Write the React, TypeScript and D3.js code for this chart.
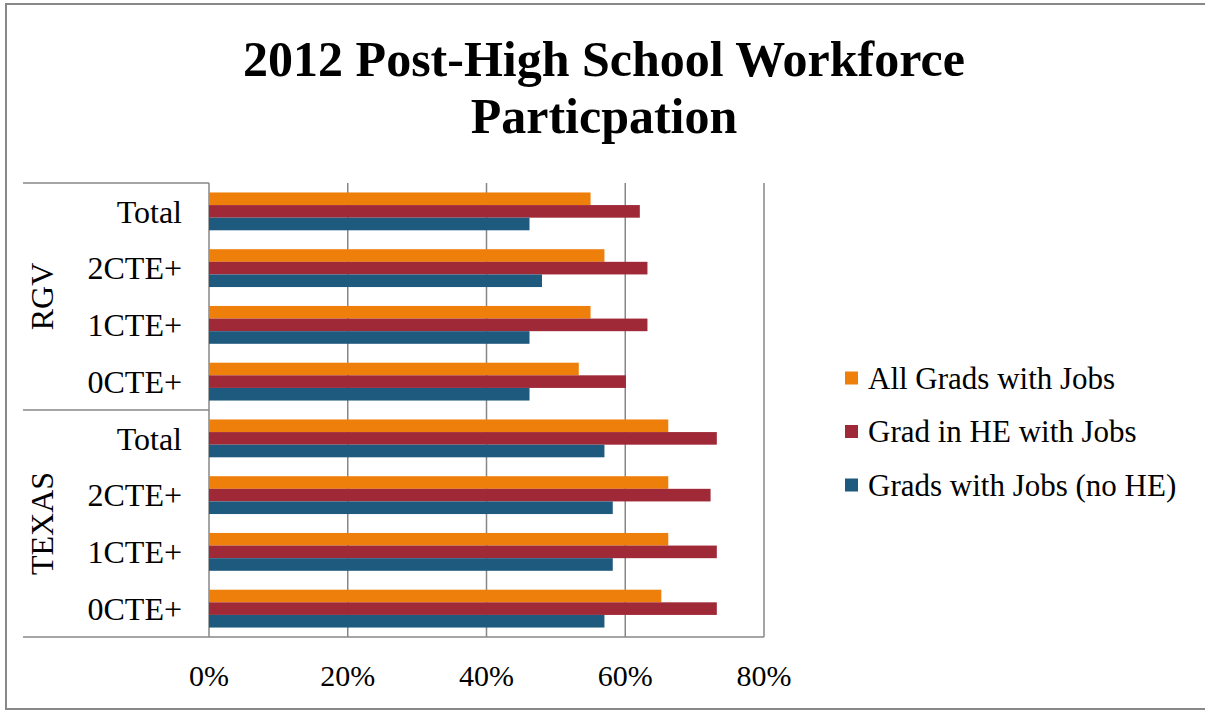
import React from "react";
import * as d3 from "d3";

const groups = ["RGV", "TEXAS"];
const categoryIds = ["RGV-Total", "RGV-2CTE+", "RGV-1CTE+", "RGV-0CTE+", "TX-Total", "TX-2CTE+", "TX-1CTE+", "TX-0CTE+"];
const categoryLabels = ["Total", "2CTE+", "1CTE+", "0CTE+", "Total", "2CTE+", "1CTE+", "0CTE+"];
const seriesNames = ["All Grads with Jobs", "Grad in HE with Jobs", "Grads with Jobs (no HE)"];
const seriesColors = ["#EE7F0B", "#A02937", "#1E5A7D"];
const allGradsJobs = [0.55, 0.57, 0.55, 0.533, 0.662, 0.662, 0.662, 0.652];
const gradHEJobs = [0.621, 0.632, 0.632, 0.601, 0.732, 0.723, 0.732, 0.732];
const gradsJobsNoHE = [0.462, 0.48, 0.462, 0.462, 0.57, 0.582, 0.582, 0.57];
const xTicks = [0, 0.2, 0.4, 0.6, 0.8];

const seriesValues = [allGradsJobs, gradHEJobs, gradsJobsNoHE];

export default function App() {
  const W = 1205, H = 711;
  const left = 209, right = 764, top = 183, bottom = 637;
  const x = d3.scaleLinear().domain([0, 0.8]).range([left, right]);
  const y = d3.scaleBand<string>().domain(categoryIds).range([top, bottom]).padding(0);
  const yInner = d3.scaleBand<string>().domain(seriesNames).range([0, y.bandwidth()]).paddingInner(0).paddingOuter(0.75);
  const font = "'Liberation Serif', 'Times New Roman', serif";
  const grid = "#878787";
  const groupMid = (i: number) => {
    const a = y(categoryIds[i * 4])!;
    const b = y(categoryIds[i * 4 + 3])! + y.bandwidth();
    return (a + b) / 2;
  };
  return (
    <svg width={W} height={H} style={{ position: "absolute", left: 0, top: 0 }} fontFamily={font}>
      <rect x={0} y={0} width={W} height={H} fill="#fff" />
      <rect x={6} y={4} width={W} height={705} fill="none" stroke="#888" strokeWidth={2} />
      <text x={604} y={76} textAnchor="middle" fontSize={50} fontWeight="bold">2012 Post-High School Workforce</text>
      <text x={604} y={133} textAnchor="middle" fontSize={50} fontWeight="bold">Particpation</text>
      {xTicks.map((t) => (
        <g key={t}>
          <line x1={x(t)} x2={x(t)} y1={top} y2={bottom} stroke={grid} strokeWidth={1.5} />
          <text x={x(t)} y={686} textAnchor="middle" fontSize={30}>{d3.format(".0%")(t)}</text>
        </g>
      ))}
      <line x1={23} x2={left} y1={top} y2={top} stroke={grid} strokeWidth={1.5} />
      <line x1={23} x2={left} y1={y(categoryIds[4])} y2={y(categoryIds[4])} stroke={grid} strokeWidth={1.5} />
      <line x1={23} x2={right} y1={bottom} y2={bottom} stroke={grid} strokeWidth={1.5} />
      {categoryIds.map((c, i) => (
        <g key={c}>
          {seriesNames.map((s, j) => (
            <rect
              key={s}
              x={x(0)}
              y={y(c)! + yInner(s)!}
              width={x(seriesValues[j][i]) - x(0)}
              height={yInner.bandwidth()}
              fill={seriesColors[j]}
            />
          ))}
          <text x={182} y={y(c)! + y.bandwidth() / 2} dy="0.35em" textAnchor="end" fontSize={32}>{categoryLabels[i]}</text>
        </g>
      ))}
      {groups.map((g, i) => (
        <text key={g} transform={`translate(42,${groupMid(i)}) rotate(-90)`} dy="0.35em" textAnchor="middle" fontSize={32}>{g}</text>
      ))}
      {seriesNames.map((s, j) => (
        <g key={s} transform={`translate(845,${378 + j * 53.5})`}>
          <rect x={0} y={-6.5} width={13} height={13} fill={seriesColors[j]} />
          <text x={23} y={0} dy="0.35em" fontSize={31}>{s}</text>
        </g>
      ))}
    </svg>
  );
}
